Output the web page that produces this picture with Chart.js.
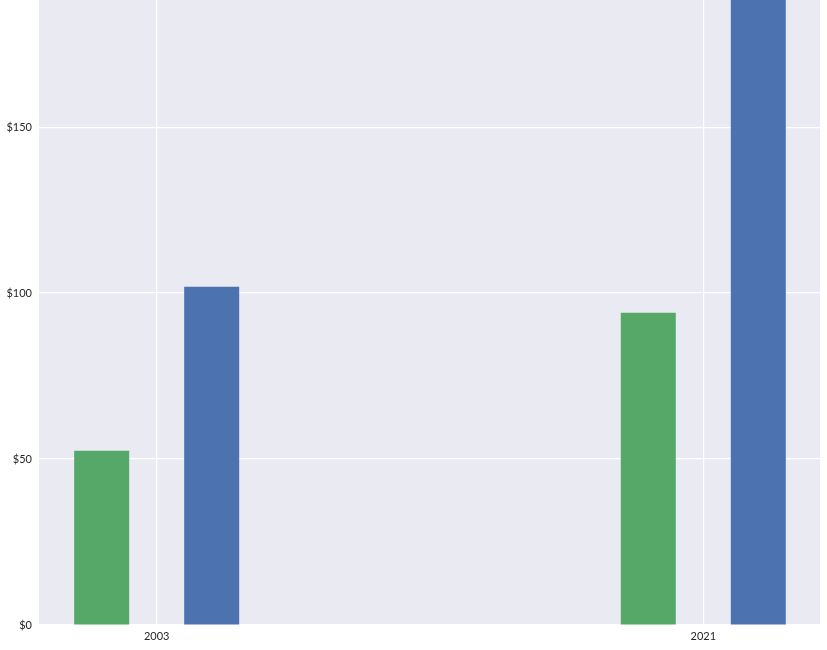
<!DOCTYPE html>
<html>
<head>
<meta charset="utf-8">
<script src="https://cdn.jsdelivr.net/npm/chart.js@4/dist/chart.umd.min.js"></script>
<style>
  html, body { margin: 0; padding: 0; background: #fff; }
  #wrap { width: 827px; height: 650px; }
</style>
</head>
<body>
<div id="wrap"><canvas id="chart" width="827" height="650"></canvas></div>
<script>
// data
const years = [2003, 2021];
const greenValues = [52.5, 94.1];
const blueValues = [101.9, 205];
const yTicks = [0, 50, 100, 150];

const plotBg = {
  id: 'plotBg',
  beforeDraw: function (chart) {
    const a = chart.chartArea;
    const ctx = chart.ctx;
    ctx.save();
    ctx.fillStyle = '#EAEAF2';
    ctx.fillRect(a.left, a.top, a.right - a.left, a.bottom - a.top);
    ctx.restore();
  }
};

function noPad(scale) {
  scale.paddingTop = 0;
  scale.paddingBottom = 0;
  scale.paddingLeft = 0;
  scale.paddingRight = 0;
}

const tickFont = { family: "'Lato', 'DejaVu Sans', sans-serif", size: 11 };

new Chart(document.getElementById('chart').getContext('2d'), {
  type: 'bar',
  data: {
    datasets: [
      {
        data: years.map(function (y, i) { return { x: y, y: greenValues[i] }; }),
        backgroundColor: '#55A868',
        borderWidth: 0
      },
      {
        data: years.map(function (y, i) { return { x: y, y: blueValues[i] }; }),
        backgroundColor: '#4C72B0',
        borderWidth: 0
      }
    ]
  },
  options: {
    responsive: false,
    animation: false,
    devicePixelRatio: 1,
    layout: { padding: { top: 0, right: 7, left: 0, bottom: 0 } },
    datasets: {
      bar: { categoryPercentage: 0.4025, barPercentage: 0.5 }
    },
    plugins: {
      legend: { display: false },
      tooltip: { enabled: false }
    },
    scales: {
      x: {
        type: 'linear',
        min: 1999.125,
        max: 2024.843,
        offset: false,
        afterBuildTicks: function (scale) {
          scale.ticks = years.map(function (v) { return { value: v }; });
        },
        afterFit: function (scale) { scale.height = 25; noPad(scale); },
        ticks: {
          color: '#262626',
          font: tickFont,
          padding: 5,
          callback: function (v) { return String(v); }
        },
        grid: { color: '#FFFFFF', lineWidth: 1.2, drawTicks: false, offset: false },
        border: { display: false }
      },
      y: {
        min: 0,
        max: 188.3,
        afterBuildTicks: function (scale) {
          scale.ticks = yTicks.map(function (v) { return { value: v }; });
        },
        afterFit: function (scale) { scale.width = 39; noPad(scale); },
        ticks: {
          color: '#262626',
          font: tickFont,
          padding: 7,
          callback: function (v) { return '$' + v; }
        },
        grid: { color: '#FFFFFF', lineWidth: 1.2, drawTicks: false },
        border: { display: false }
      }
    }
  },
  plugins: [plotBg]
});
</script>
</body>
</html>
